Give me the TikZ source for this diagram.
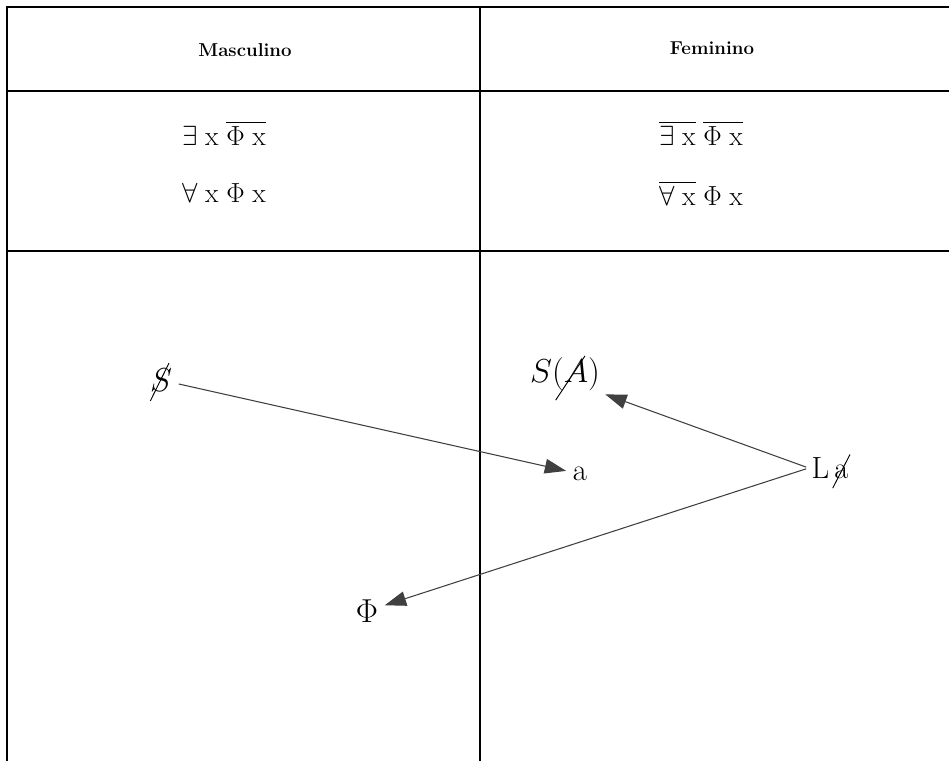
\documentclass[tikz,border=0pt]{standalone}
\usepackage{amssymb}
\usetikzlibrary{arrows.meta}

\begin{document}
\begin{tikzpicture}[x=0.75pt,y=-0.75pt,
  rule/.style={line width=1.2pt},
  head/.style={font=\fontsize{14}{16}\selectfont\bfseries},
  formula/.style={font=\fontsize{22}{26}\selectfont},
  lab/.style={font=\fontsize{23}{27}\selectfont,inner sep=2pt},
  slash/.style={line width=0.7pt},
  arr/.style={draw=black!75,line width=0.8pt,-{Triangle[length=16pt,width=11pt]}}]
\useasboundingbox (0,0) rectangle (949,761);
\draw[rule] (7,761) -- (7,7) -- (949,7);
\draw[rule] (480,7) -- (480,761);
\foreach \y in {91,251}
{\draw[rule] (7,\y) -- (949,\y);}

\node[head] (masc) at (245,50) {Masculino};
\node[head] (fem) at (712,48) {Feminino};

\node[formula] (mone) at (224,133) {$\exists\;\mathrm{x}\;\overline{\Phi\;\mathrm{x}}$};
\node[formula] (mtwo) at (224,193) {$\forall\;\mathrm{x}\;\Phi\;\mathrm{x}$};
\node[formula] (fone) at (701,133) {$\overline{\exists\;\mathrm{x}}\;\overline{\Phi\;\mathrm{x}}$};
\node[formula] (ftwo) at (701,193) {$\overline{\forall\;\mathrm{x}}\;\Phi\;\mathrm{x}$};

\node[lab] (sbar) at (161,380) {$S$};
\node[lab] (a) at (580,474) {a};
\node[lab] (sa) at (565,374) {$S(A)$};
\node[lab] (la) at (830,468) {L\,a};
\node[lab] (phi) at (367,611) {$\Phi$};

% barred letters
\draw[slash] ([xshift=-8pt,yshift=-5pt]sbar.south) -- ([xshift=6pt,yshift=2pt]sbar.north);
\draw[slash] ([xshift=-7pt,yshift=-5pt]sa.south) -- ([xshift=15pt,yshift=-1pt]sa.north);
\draw[slash] ([xshift=2pt,yshift=-5pt]la.south) -- ([xshift=15pt,yshift=0pt]la.north);

\draw[arr,shorten <=3pt,shorten >=3pt] (sbar) -- (a);
\draw[arr,shorten <=2pt,shorten >=2pt] (la.west) -- (sa.south east);
\draw[arr,shorten <=2pt,shorten >=3pt] (la.west) -- (phi);

\end{tikzpicture}
\end{document}
